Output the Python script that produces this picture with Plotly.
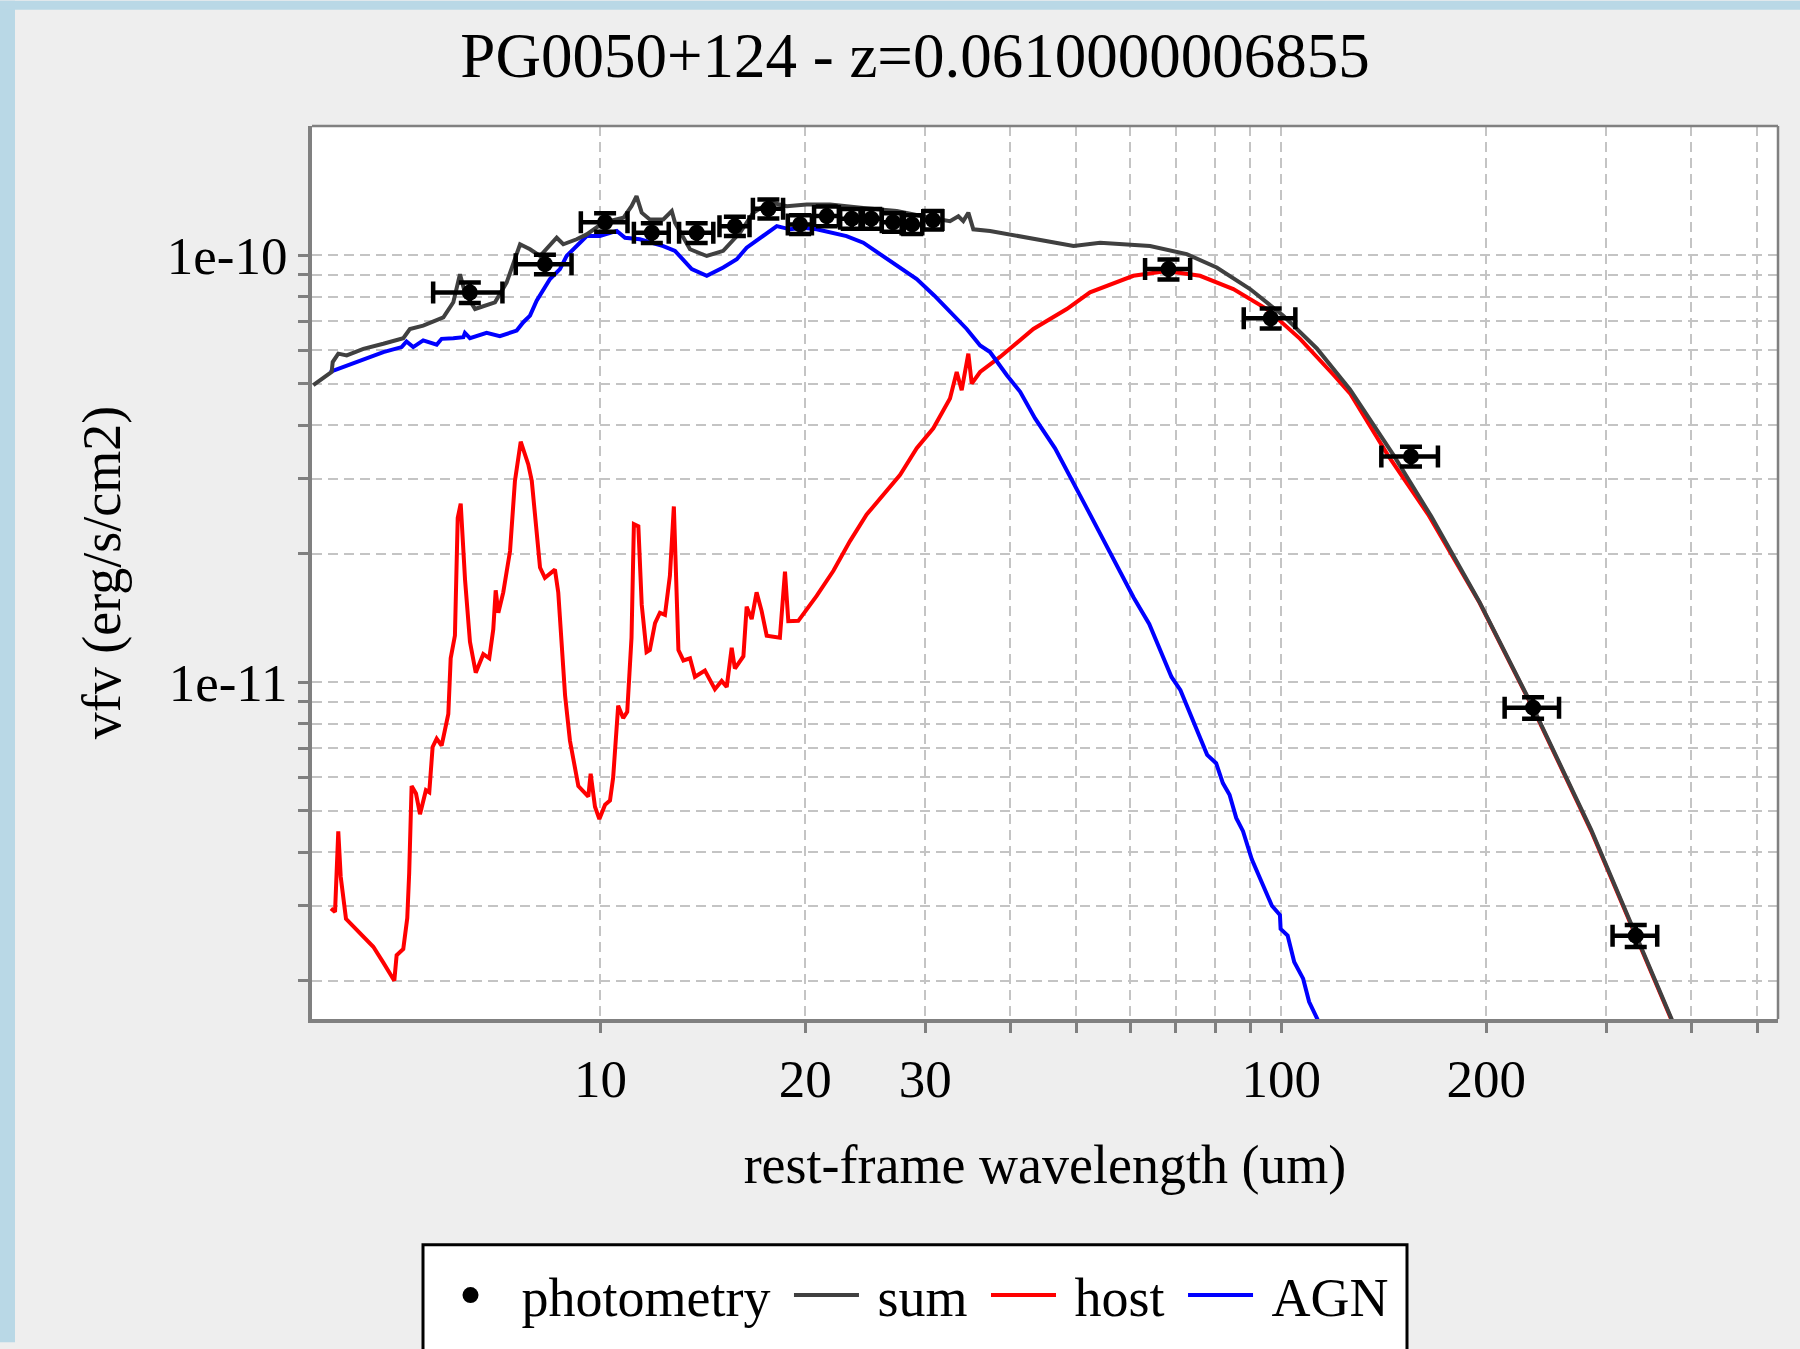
import plotly.graph_objects as go

# ---------------- data (flux values in units of 1e-11 erg/s/cm2) ----------------
FLUX_UNIT = 1e-11

phot_wl = [6.43, 8.29, 10.16, 11.9, 13.85, 15.76, 17.65, 19.65, 21.5, 23.4, 25.0,
           26.9, 28.7, 30.8, 68.3, 96.5, 155.1, 234.4, 331.7]
phot_wl_err = [0.75, 0.78, 0.8, 0.7, 0.8, 0.8, 0.9, 0.8, 0.9, 0.9, 0.9,
               1.0, 1.0, 1.0, 5.2, 8.4, 14.8, 21.5, 25.0]
phot_flux = [8.18, 9.53, 11.95, 11.29, 11.29, 11.70, 12.85, 11.81, 12.35, 12.18, 12.18,
             11.95, 11.81, 12.09, 9.28, 7.12, 3.38, 0.872, 0.255]
phot_flux_err = [0.45, 0.5, 0.6, 0.6, 0.6, 0.6, 0.65, 0.6, 0.65, 0.65, 0.65,
                 0.6, 0.6, 0.6, 0.5, 0.38, 0.18, 0.05, 0.015]

sum_wl = [3.787, 4.030, 4.044, 4.121, 4.240, 4.486, 4.799, 5.134, 5.250, 5.492, 5.880,
          6.081, 6.219, 6.324, 6.545, 6.883, 7.001, 7.284, 7.621, 7.882, 8.153, 8.626,
          8.821, 9.228, 9.548, 10.10, 10.81, 11.11, 11.30, 11.50, 11.82, 12.37, 12.73,
          12.87, 13.54, 14.33, 15.15, 16.04, 16.77, 17.75, 18.78, 20.09, 21.75, 24.33,
          27.24, 30.49, 32.62, 33.56, 34.12, 34.71, 35.30, 37.35, 39.97, 43.25, 49.54,
          54.2, 64.17, 72.65, 80.4, 90.0, 100.7, 112.8, 126.2, 146.3, 166.0, 195.6,
          234.4, 285.2, 331.7, 374.5, 395.4]
sum_flux = [4.963, 5.33, 5.623, 5.883, 5.829, 6.039, 6.205, 6.395, 6.72, 6.842, 7.156,
            7.76, 9.03, 8.188, 7.484, 7.689, 7.76, 8.637, 10.61, 10.33, 9.96, 10.99,
            10.61, 10.90, 11.19, 11.92, 12.24, 13.03, 13.75, 12.58, 12.13, 12.13, 12.69,
            11.92, 10.33, 9.96, 10.24, 11.30, 12.58, 13.31, 13.03, 13.15, 13.15, 12.91,
            12.69, 12.24, 12.02, 12.34, 12.02, 12.58, 11.50, 11.40, 11.19, 10.90, 10.51,
            10.70, 10.51, 10.06, 9.363, 8.335, 7.220, 6.05, 4.85, 3.40, 2.45, 1.54,
            0.872, 0.452, 0.255, 0.1627, 0.1247]

host_wl = [4.020, 4.076, 4.121, 4.155, 4.230, 4.486, 4.639, 4.799, 4.981, 5.020, 5.134,
           5.204, 5.238, 5.281, 5.360, 5.433, 5.543, 5.606, 5.670, 5.748, 5.845, 5.979,
           6.027, 6.114, 6.172, 6.235, 6.327, 6.433, 6.560, 6.730, 6.867, 6.961, 7.018,
           7.081, 7.200, 7.367, 7.490, 7.638, 7.836, 7.929, 8.153, 8.289, 8.575, 8.672,
           8.874, 9.022, 9.282, 9.600, 9.676, 9.819, 9.965, 10.16, 10.33, 10.44, 10.62,
           10.80, 10.95, 11.11, 11.20, 11.37, 11.50, 11.69, 11.82, 12.03, 12.23, 12.44,
           12.65, 12.82, 13.02, 13.24, 13.54, 13.77, 14.24, 14.73, 15.07, 15.33, 15.59,
           15.76, 16.22, 16.40, 16.68, 16.96, 17.25, 17.55, 18.35, 18.67, 18.88, 19.53,
           20.78, 21.99, 23.26, 24.61, 26.03, 27.56, 29.15, 30.83, 32.62, 33.37, 33.94,
           34.71, 35.11, 36.12, 38.64, 43.25, 48.42, 52.38, 60.66, 67.91, 75.99, 85.05,
           95.24, 106.6, 119.3, 126.2, 143.5, 164.4, 195.6, 234.4, 285.2, 331.7, 374.5,
           395.4]
host_flux = [0.2953, 0.2899, 0.4475, 0.3505, 0.2793, 0.2538, 0.2402, 0.2206, 0.2001, 0.2296,
             0.2373, 0.2805, 0.3581, 0.5715, 0.549, 0.4911, 0.5588, 0.5527, 0.7058, 0.7382,
             0.7105, 0.843, 1.138, 1.286, 2.426, 2.620, 1.737, 1.244, 1.053, 1.164, 1.138,
             1.330, 1.642, 1.455, 1.624, 2.030, 2.963, 3.659, 3.237, 2.963, 1.857, 1.757,
             1.836, 1.624, 0.932, 0.7296, 0.5715, 0.540, 0.6107, 0.5112, 0.4783, 0.5169,
             0.5288, 0.5974, 0.8814, 0.8247, 0.8528, 1.272, 2.345, 2.318, 1.520, 1.177,
             1.190, 1.375, 1.455, 1.438, 1.776, 2.581, 1.190, 1.125, 1.138, 1.030, 1.065,
             0.9632, 1.007, 0.9745, 1.204, 1.077, 1.151, 1.503, 1.406, 1.624, 1.470, 1.286,
             1.272, 1.816, 1.390, 1.393, 1.594, 1.824, 2.141, 2.471, 2.750, 3.062, 3.532,
             3.933, 4.622, 5.33, 4.831, 5.883, 5.006, 5.33, 5.779, 6.72, 7.484, 8.188,
             8.951, 9.191, 8.951, 8.335, 7.484, 6.372, 5.25, 4.75, 3.40, 2.47, 1.535,
             0.868, 0.449, 0.2534, 0.1617, 0.1241]

agn_wl = [4.008, 4.191, 4.486, 4.799, 5.106, 5.191, 5.310, 5.492, 5.748, 5.845, 6.081,
          6.291, 6.324, 6.433, 6.806, 7.117, 7.535, 7.706, 7.882, 8.061, 8.433, 8.722,
          8.921, 9.548, 9.984, 10.57, 10.87, 11.43, 12.37, 12.87, 13.62, 14.33, 15.15,
          15.86, 16.40, 17.35, 18.16, 18.99, 19.86, 20.78, 22.99, 24.33, 26.94, 29.15,
          30.95, 32.62, 34.52, 36.12, 37.35, 39.54, 41.36, 43.5, 46.54, 51.78, 60.70,
          63.99, 69.0, 71.12, 77.84, 80.24, 82.09, 83.97, 85.88, 87.88, 90.53, 96.9,
          99.57, 99.8, 102.2, 104.5, 107.7, 109.9, 113.0, 115.0]
agn_flux = [5.33, 5.477, 5.726, 5.934, 6.095, 6.282, 6.095, 6.317, 6.172, 6.372, 6.395,
            6.431, 6.579, 6.395, 6.579, 6.466, 6.663, 6.970, 7.220, 7.826, 8.795, 9.277,
            9.963, 11.09, 11.09, 11.40, 10.99, 10.90, 10.51, 10.24, 9.277, 8.951, 9.363,
            9.786, 10.42, 11.09, 11.70, 11.50, 11.60, 11.50, 11.09, 10.70, 9.614, 8.795,
            8.04, 7.356, 6.72, 6.148, 5.934, 5.236, 4.789, 4.149, 3.532, 2.561, 1.580,
            1.370, 1.029, 0.9585, 0.6761, 0.6464, 0.5806, 0.5455, 0.4813, 0.448, 0.385, 0.2997,
            0.2852, 0.2646, 0.2553, 0.2213, 0.2023, 0.1785, 0.1627, 0.1502]

assert len(sum_wl) == len(sum_flux)
assert len(host_wl) == len(host_flux)
assert len(agn_wl) == len(agn_flux)

x_tickvals = [10, 20, 30, 40, 50, 60, 70, 80, 90, 100, 200, 300, 400, 500]
x_ticktext = ["10", "20", "30", "", "", "", "", "", "", "100", "200", "", "", ""]
y_tickvals = [2e-12, 3e-12, 4e-12, 5e-12, 6e-12, 7e-12, 8e-12, 9e-12, 1e-11,
              2e-11, 3e-11, 4e-11, 5e-11, 6e-11, 7e-11, 8e-11, 9e-11, 1e-10]
y_ticktext = ["", "", "", "", "", "", "", "", "1e-11",
              "", "", "", "", "", "", "", "", "1e-10"]

TITLE = "PG0050+124 - z=0.0610000006855"
FONT = "Liberation Serif"
NB = "\u00a0"

def scale(v):
    return [a * FLUX_UNIT for a in v]

fig = go.Figure()
fig.add_trace(go.Scatter(x=host_wl, y=scale(host_flux), mode="lines",
                         name=NB + "host" + NB,
                         line=dict(color="#ff0000", width=4), legendrank=3))
fig.add_trace(go.Scatter(x=agn_wl, y=scale(agn_flux), mode="lines",
                         name=NB + "AGN",
                         line=dict(color="#0000ff", width=4), legendrank=4))
fig.add_trace(go.Scatter(x=sum_wl, y=scale(sum_flux), mode="lines",
                         name=NB + "sum" + NB,
                         line=dict(color="#404040", width=4), legendrank=2))
fig.add_trace(go.Scatter(x=phot_wl, y=scale(phot_flux), mode="markers",
                         name=NB + "photometry" + NB,
                         marker=dict(color="black", size=16),
                         error_x=dict(type="data", array=phot_wl_err, color="black",
                                      thickness=4.5, width=11),
                         error_y=dict(type="data", array=scale(phot_flux_err), color="black",
                                      thickness=4.5, width=11),
                         legendrank=1))

W, H = 1800, 1349
L, R, T, B = 312, 22, 126, 325
PW, PH = W - L - R, H - T - B

def px(xp):
    return (xp - L) / PW

def py(yp):
    return (H - B - yp) / PH

axis_common = dict(type="log", showline=True, linecolor="#808080", linewidth=4,
                   ticks="outside", ticklen=10, tickwidth=3, tickcolor="#808080",
                   showgrid=True, gridcolor="#c4c4c4", gridwidth=2, griddash="10px,6px",
                   tickfont=dict(family=FONT, size=53, color="black"),
                   zeroline=False)

fig.update_layout(
    width=W, height=H,
    margin=dict(l=L, r=R, t=T, b=B, pad=0),
    paper_bgcolor="#eeeeee", plot_bgcolor="white",
    font=dict(family=FONT, size=54, color="black"),
    title=dict(text=TITLE, x=(900 + 15) / W, xanchor="center", y=1 - 55 / H, yanchor="middle",
               yref="container", xref="container",
               font=dict(family=FONT, size=63, color="black")),
    xaxis=dict(axis_common, range=[0.5764, 2.7297], tickvals=x_tickvals, ticktext=x_ticktext,
               title=dict(text="rest-frame wavelength (um)", standoff=40,
                          font=dict(family=FONT, size=54))),
    yaxis=dict(axis_common, range=[-11.7885, -9.6973], tickvals=y_tickvals, ticktext=y_ticktext,
               title=dict(text="vfv (erg/s/cm2)", standoff=30,
                          font=dict(family=FONT, size=54))),
    showlegend=True,
    legend=dict(orientation="h", x=px(433), xanchor="left", y=py(1302), yanchor="middle",
                bgcolor="rgba(0,0,0,0)", borderwidth=0,
                font=dict(family=FONT, size=54, color="black"), itemwidth=65),
    shapes=[
        # legend box
        dict(type="rect", xref="paper", yref="paper", x0=px(423), x1=px(1407),
             y0=py(1380), y1=py(1251), line=dict(color="black", width=3),
             fillcolor="white", layer="below"),
        # top and right frame
        dict(type="line", xref="paper", yref="paper", x0=0, x1=1, y0=1, y1=1,
             line=dict(color="#808080", width=2.5)),
        dict(type="line", xref="paper", yref="paper", x0=1, x1=1, y0=0, y1=1,
             line=dict(color="#808080", width=2.5)),
        # light blue page edges
        dict(type="rect", xref="paper", yref="paper", x0=px(0), x1=px(15),
             y0=py(H), y1=py(0), line=dict(width=0), fillcolor="#b9d8e6", layer="below"),
        dict(type="rect", xref="paper", yref="paper", x0=px(0), x1=px(W),
             y0=py(9), y1=py(0), line=dict(width=0), fillcolor="#b9d8e6", layer="below"),
    ],
)

fig.write_html("out.html")
